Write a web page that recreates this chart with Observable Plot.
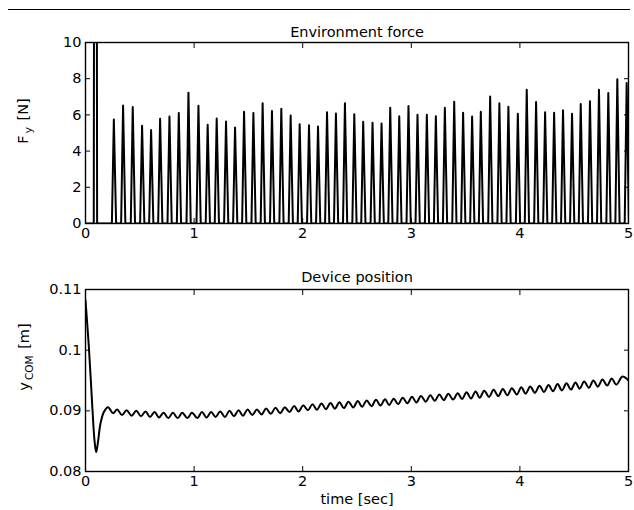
<!DOCTYPE html>
<html><head><meta charset="utf-8">
<script src="https://cdn.jsdelivr.net/npm/d3@7"></script>
<script src="https://cdn.jsdelivr.net/npm/@observablehq/plot@0.6"></script>
<style>
body{margin:0;background:#fff;}
#wrap{position:relative;width:634px;height:510px;font-family:"DejaVu Sans",sans-serif;color:#000;}
#rule{position:absolute;left:8px;top:9px;width:622px;border-top:1.3px solid #000;}
svg{display:block;overflow:visible;}
</style></head><body><div id="wrap"><div id="rule"></div><div id="p1"></div><div id="p2"></div></div>
<script>
// ---------- data ----------
const xTicks = [0, 1, 2, 3, 4, 5];
const forceTicks = [0, 2, 4, 6, 8, 10];
const posTicks = [0.08, 0.09, 0.1, 0.11];

// initial impact (goes off the top of the axes)
const impactTime = [0, 0.076, 0.091, 0.107];
const impactForce = [0, 0, 80, 0];

// periodic contact spikes: onset, peak time, end, peak force
const spikeOnset = [0.243,0.328,0.417,0.503,0.586,0.669,0.755,0.841,0.930,1.022,1.107,1.190,1.276,1.359,1.442,1.528,1.613,1.699,1.785,1.871,1.954,2.040,2.123,2.206,2.288,2.371,2.457,2.539,2.625,2.708,2.788,2.871,2.956,3.039,3.125,3.208,3.291,3.377,3.459,3.542,3.622,3.708,3.793,3.876,3.963,4.045,4.131,4.214,4.297,4.379,4.462,4.542,4.627,4.710,4.796,4.879,4.965];
const spikeTime = [0.261,0.346,0.435,0.521,0.604,0.687,0.773,0.859,0.948,1.040,1.125,1.208,1.294,1.377,1.460,1.546,1.631,1.717,1.803,1.889,1.972,2.058,2.141,2.224,2.306,2.389,2.475,2.557,2.643,2.726,2.806,2.889,2.974,3.057,3.143,3.226,3.309,3.395,3.477,3.560,3.640,3.726,3.811,3.894,3.981,4.063,4.149,4.232,4.315,4.397,4.480,4.560,4.645,4.728,4.814,4.897,4.983];
const spikeEnd = [0.282,0.367,0.456,0.542,0.625,0.708,0.794,0.880,0.969,1.061,1.146,1.229,1.315,1.398,1.481,1.567,1.652,1.738,1.824,1.910,1.993,2.079,2.162,2.245,2.327,2.410,2.496,2.578,2.664,2.747,2.827,2.910,2.995,3.078,3.164,3.247,3.330,3.416,3.498,3.581,3.661,3.747,3.832,3.915,4.002,4.084,4.170,4.253,4.336,4.418,4.501,4.581,4.666,4.749,4.835,4.918,5.004];
const spikePeak = [5.75,6.52,6.43,5.40,5.16,5.79,5.91,6.10,7.23,6.51,5.45,5.80,5.64,5.30,6.17,6.10,6.64,6.21,6.34,5.97,5.49,5.43,5.36,6.14,6.08,6.65,6.04,5.62,5.56,5.53,6.40,5.93,6.49,6.01,6.01,5.93,6.40,6.73,6.12,5.91,6.17,7.01,6.64,6.45,6.06,7.39,6.71,6.14,6.12,6.25,6.06,6.60,6.75,7.39,7.21,7.97,7.76];

// device position (time [s], y_COM [m])
const posTime = [0.000,0.031,0.061,0.083,0.098,0.113,0.138,0.169,0.208,0.254,0.291,
0.336,0.378,0.425,0.467,0.511,0.553,0.594,0.636,0.677,0.719,0.763,0.805,0.849,0.891,0.938,0.980,
1.030,1.072,1.115,1.157,1.198,1.240,1.284,1.326,1.367,1.409,1.450,1.492,1.536,1.578,1.621,1.663,1.707,1.749,1.793,1.835,1.879,1.921,1.962,2.004,
2.048,2.090,2.131,2.173,2.214,2.256,2.296,2.338,2.379,2.421,2.465,2.507,2.547,2.589,2.633,2.675,2.716,2.758,2.796,2.838,2.879,2.921,2.964,3.006,
3.047,3.089,3.133,3.175,3.216,3.258,3.299,3.341,3.385,3.427,3.467,3.509,3.550,3.592,3.630,3.672,3.716,3.758,3.801,3.843,3.884,3.926,3.971,4.013,
4.053,4.095,4.139,4.181,4.222,4.264,4.305,4.347,4.387,4.429,4.470,4.512,4.550,4.592,4.635,4.677,4.718,4.760,4.804,4.846,4.887,4.945,5.000];
const posValue = [0.1082,0.1005,0.0912,0.0851,0.0832,0.0846,0.0879,0.0898,0.0906,0.0896,0.0902,
0.0893,0.0901,0.0892,0.0900,0.0891,0.0899,0.0890,0.0898,0.0889,0.0897,0.0888,0.0897,0.0888,0.0897,0.0888,0.0897,
0.0888,0.0898,0.0889,0.0898,0.0890,0.0899,0.0890,0.0900,0.0891,0.0901,0.0892,0.0902,0.0893,0.0902,0.0894,0.0904,0.0895,0.0905,0.0896,0.0906,0.0898,0.0908,0.0899,0.0909,
0.09010,0.09110,0.09017,0.09121,0.09027,0.09131,0.09036,0.09141,0.09045,0.09150,0.09056,0.09161,0.09066,0.09171,0.09076,0.09181,0.09086,0.09191,0.09096,0.09200,0.09111,0.09217,0.09124,0.09231,
0.09138,0.09244,0.09151,0.09258,0.09165,0.09271,0.09176,0.09281,0.09186,0.09291,0.09196,0.09306,0.09203,0.09320,0.09216,0.09333,0.09230,0.09346,0.09243,0.09360,0.09256,0.09373,0.09270,0.09387,
0.09283,0.09400,0.09297,0.09414,0.09311,0.09427,0.09324,0.09441,0.09337,0.09454,0.09350,0.09467,0.09365,0.09483,0.09382,0.09500,0.09399,0.09517,0.09416,0.09534,0.09432,0.09565,0.09500];

// ---------- tables built from the arrays ----------
const force = impactTime.map((t, i) => ({t, f: impactForce[i]}));
spikeTime.forEach((t, i) => {
  force.push({t: spikeOnset[i], f: 0});
  force.push({t, f: spikePeak[i]});
  force.push({t: spikeEnd[i], f: 0});
});
const pos = posTime.map((t, i) => ({t, y: posValue[i]}));

// ---------- drawing ----------
const FONT = '"DejaVu Sans", sans-serif';
const FS = 14.5;
const blank = () => "";
function axes(yTicks, yFmt) {
  return [
    Plot.axisX(xTicks, {anchor: "bottom", tickSize: 0, tickPadding: 4, label: null, fontSize: FS}),
    Plot.axisX(xTicks, {anchor: "bottom", tickSize: 5, dy: -5, tickFormat: blank, label: null}),
    Plot.axisX(xTicks, {anchor: "top", tickSize: 5, dy: 5, tickFormat: blank, label: null}),
    Plot.axisY(yTicks, {anchor: "left", tickSize: 0, tickPadding: 4, tickFormat: yFmt, label: null, fontSize: FS}),
    Plot.axisY(yTicks, {anchor: "left", tickSize: 5, dx: 5, tickFormat: blank, label: null}),
    Plot.axisY(yTicks, {anchor: "right", tickSize: 5, dx: -5, tickFormat: blank, label: null}),
    Plot.frame({stroke: "#000", strokeWidth: 1.4})
  ];
}

const p1 = Plot.plot({
  width: 634, height: 250,
  marginLeft: 85, marginRight: 6, marginTop: 42, marginBottom: 27,
  style: {fontFamily: FONT, fontSize: FS + "px", color: "#000", background: "transparent", overflow: "visible"},
  x: {domain: [0, 5]},
  y: {domain: [0, 10]},
  marks: [
    Plot.line(force, {x: "t", y: "f", stroke: "#000", strokeWidth: 2, clip: true}),
    ...axes(forceTicks, d3.format("~g")),
    Plot.text(["Environment force"], {text: d => d, frameAnchor: "top", dy: -16, fontSize: FS, fill: "#000"})
  ]
});
document.getElementById("p1").appendChild(p1);

const p2 = Plot.plot({
  width: 634, height: 260,
  marginLeft: 85, marginRight: 6, marginTop: 39, marginBottom: 39,
  style: {fontFamily: FONT, fontSize: FS + "px", color: "#000", background: "transparent", overflow: "visible"},
  x: {domain: [0, 5]},
  y: {domain: [0.08, 0.11]},
  marks: [
    Plot.line(pos, {x: "t", y: "y", stroke: "#000", strokeWidth: 2, curve: "catmull-rom", clip: true}),
    ...axes(posTicks, d3.format("~g")),
    Plot.text(["Device position"], {text: d => d, frameAnchor: "top", dy: -18, fontSize: FS, fill: "#000"}),
    Plot.text(["time [sec]"], {text: d => d, frameAnchor: "bottom", dy: 32, fontSize: FS, fill: "#000"})
  ]
});
document.getElementById("p2").appendChild(p2);

// y-axis titles with subscripts
function yTitle(svg, x, y, main, sub, rest) {
  const t = d3.select(svg).append("text")
    .attr("transform", `translate(${x},${y}) rotate(-90)`)
    .attr("text-anchor", "middle")
    .attr("font-family", FONT)
    .attr("font-size", FS)
    .attr("fill", "#000");
  t.append("tspan").text(main);
  t.append("tspan").attr("font-size", 10.5).attr("dx", 2).attr("dy", 4).text(sub);
  t.append("tspan").attr("dy", -4).attr("dx", 2).text(rest);
}
yTitle(p1, 28, 121, "F", "y", " [N]");
yTitle(p2, 29, 107, "y", "COM", " [m]");
</script></body></html>
